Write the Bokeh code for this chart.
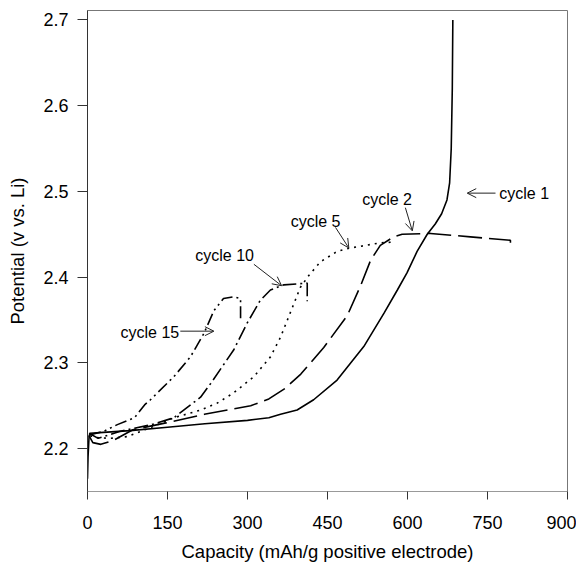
from bokeh.plotting import figure
from bokeh.models import Range1d, FixedTicker, Arrow, OpenHead, Label
from bokeh.embed import file_html
from bokeh.resources import INLINE

# ---- data ----
c1_x = [0, 1, 3, 5, 30, 80, 150, 220, 300, 340, 362, 393, 424, 468, 518, 556, 581, 599, 618, 637, 652, 664, 674, 679, 682, 684, 685]
c1_y = [2.165, 2.19, 2.215, 2.218, 2.219, 2.221, 2.225, 2.229, 2.233, 2.236, 2.24, 2.245, 2.257, 2.28, 2.319, 2.358, 2.385, 2.405, 2.43, 2.45, 2.462, 2.474, 2.49, 2.51, 2.55, 2.62, 2.7]

c2_x = [3, 10, 25, 50, 85, 147, 219, 306, 340, 370, 400, 443, 487, 512, 531, 549, 574, 590, 643, 718, 793, 793]
c2_y = [2.215, 2.207, 2.205, 2.21, 2.222, 2.23, 2.24, 2.25, 2.258, 2.27, 2.287, 2.318, 2.355, 2.39, 2.42, 2.437, 2.447, 2.45, 2.451, 2.447, 2.443, 2.438]

c5_x = [5, 15, 43, 74, 120, 162, 212, 243, 274, 312, 343, 362, 387, 399, 415, 437, 468, 493, 549, 575]
c5_y = [2.215, 2.213, 2.212, 2.214, 2.225, 2.236, 2.245, 2.253, 2.265, 2.284, 2.307, 2.33, 2.369, 2.388, 2.402, 2.418, 2.43, 2.434, 2.44, 2.441]

c10_x = [3, 20, 60, 120, 162, 212, 231, 274, 299, 324, 343, 368, 412, 412]
c10_y = [2.218, 2.212, 2.22, 2.228, 2.236, 2.26, 2.276, 2.315, 2.346, 2.373, 2.385, 2.391, 2.393, 2.372]

c15_x = [3, 30, 56, 88, 107, 118, 162, 193, 218, 237, 255, 274, 287, 287]
c15_y = [2.216, 2.22, 2.228, 2.236, 2.251, 2.257, 2.284, 2.307, 2.334, 2.361, 2.375, 2.377, 2.375, 2.352]

x_ticks = [0, 150, 300, 450, 600, 750, 900]
y_ticks = [2.2, 2.3, 2.4, 2.5, 2.6, 2.7]

labels = ["cycle 1", "cycle 2", "cycle 5", "cycle 10", "cycle 15"]
label_x = [772, 515, 381, 202, 62]
label_y = [2.498, 2.491, 2.465, 2.425, 2.336]
arrow_x0 = [765, 596, 465, 312, 174]
arrow_y0 = [2.498, 2.481, 2.458, 2.415, 2.337]
arrow_x1 = [712, 609, 490, 364, 237]
arrow_y1 = [2.498, 2.454, 2.434, 2.39, 2.337]

FONT = "Liberation Sans"

p = figure(width=576, height=564, output_backend="svg", toolbar_location=None,
           x_range=Range1d(0, 900), y_range=Range1d(2.15, 2.711),
           min_border_left=87, min_border_right=9, min_border_top=10, min_border_bottom=72)
p.grid.visible = False
p.background_fill_color = "white"
p.border_fill_color = "white"
p.outline_line_color = "#777777"
p.outline_line_width = 1

for ax in (p.xaxis[0], p.yaxis[0]):
    ax.minor_tick_line_color = None
    ax.major_tick_in = 0
    ax.major_label_text_font = FONT
    ax.major_label_text_font_size = "18px"
    ax.major_label_text_color = "black"
    ax.axis_label_text_font = FONT
    ax.axis_label_text_font_size = "18.5px"
    ax.axis_label_text_font_style = "normal"
    ax.axis_label_text_color = "black"
    ax.axis_line_color = "#333333"
    ax.major_tick_line_color = "#333333"

p.xaxis.ticker = FixedTicker(ticks=x_ticks)
p.yaxis.ticker = FixedTicker(ticks=y_ticks)
p.xaxis.major_tick_out = 8
p.yaxis.major_tick_out = 10
p.xaxis.major_label_standoff = 16
p.yaxis.major_label_standoff = 9
p.xaxis.axis_label = "Capacity (mAh/g positive electrode)"
p.yaxis.axis_label = "Potential (v vs. Li)"
p.xaxis.axis_label_standoff = 9
p.yaxis.axis_label_standoff = 12
p.xaxis.axis_line_color = "#999999"

lw = 1.6
p.line(c1_x, c1_y, line_color="black", line_width=lw)
p.line(c2_x, c2_y, line_color="black", line_width=lw, line_dash="24 7")
p.line(c5_x, c5_y, line_color="black", line_width=lw, line_dash="2 5")
p.line(c10_x, c10_y, line_color="black", line_width=lw, line_dash="14 4 2 4")
p.line(c15_x, c15_y, line_color="black", line_width=lw, line_dash="12 4 2 4 2 4")

for t, lx, ly in zip(labels, label_x, label_y):
    p.add_layout(Label(x=lx, y=ly, text=t, text_font=FONT, text_font_size="16px",
                       text_color="black", text_align="left", text_baseline="middle"))

for x0, y0, x1, y1 in zip(arrow_x0, arrow_y0, arrow_x1, arrow_y1):
    p.add_layout(Arrow(end=OpenHead(size=9, line_width=1, line_color="#222222"),
                       x_start=x0, y_start=y0, x_end=x1, y_end=y1,
                       line_width=1, line_color="#222222"))

open("out.html", "w").write(file_html(p, INLINE))
